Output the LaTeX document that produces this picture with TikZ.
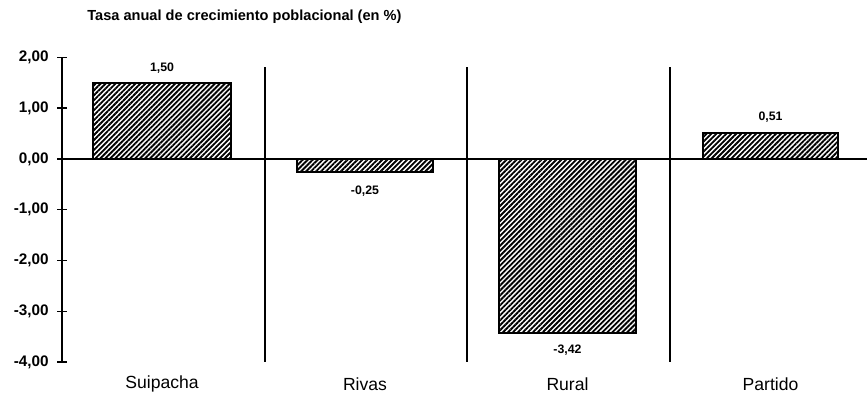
\documentclass[tikz,border=0pt]{standalone}
\usepackage{fontspec}
\setmainfont{Liberation Sans}
\usetikzlibrary{patterns.meta,positioning}

\begin{document}
\begin{tikzpicture}[
x=0.02cm, y=1.016cm,
font=\bfseries,
axisline/.style={line width=1.1pt},
divider/.style={line width=1.1pt},
hatched/.style={draw=black, line width=1.1pt, pattern={Lines[angle=45,distance=2pt,line width=1.05pt]}},
ticklabel/.style={anchor=east, inner sep=0pt, font=\bfseries\fontsize{8.7}{10}\selectfont},
barlabel/.style={inner sep=0pt, font=\bfseries\fontsize{7}{8}\selectfont},
catlabel/.style={inner sep=0pt, font=\fontsize{10}{12}\selectfont}
]
    \useasboundingbox (0,3.13) rectangle (867,-4.705);

    % Title
    \node[anchor=west, inner sep=0pt, font=\bfseries\fontsize{8.3}{10}\selectfont] (title) at (87,2.795)
        {Tasa anual de crecimiento poblacional (en \%)};

    % Axes
    \draw[axisline] (62,2) coordinate (ytop) -- (62,-4) coordinate (ybot);
    \draw[axisline] (62,0) coordinate (xleft) -- (867,0) coordinate (xright);
    \foreach \v/\t [count=\i] in {2/{2,00},1/{1,00},0/{0,00},-1/{-1,00},-2/{-2,00},-3/{-3,00},-4/{-4,00}}
    {
        \draw[thick] (57,\v) -- (67,\v);
        \node[ticklabel] (tick\i) at (49,\v) {\t};
    }

    % Dividers
    \draw[divider] (265,1.81) coordinate (d1top) -- (265,-4) coordinate (d1bot);
    \draw[divider] (467,1.81) coordinate (d2top) -- (467,-4) coordinate (d2bot);
    \draw[divider] (670,1.81) coordinate (d3top) -- (670,-4) coordinate (d3bot);

    % Bars
    \draw[hatched] (93,0) rectangle (231,1.50);
    \draw[hatched] (297,0) rectangle (433,-0.25);
    \draw[hatched] (499,0) rectangle (636,-3.42);
    \draw[hatched] (703,0) rectangle (838,0.51);

    \coordinate (suitop) at (162,1.50);
    \coordinate (rivbot) at (365,-0.25);
    \coordinate (rurbot) at (567.5,-3.42);
    \coordinate (partop) at (770.5,0.51);

    % Values
    \node[barlabel, above=5pt of suitop] (vsui) {1,50};
    \node[barlabel, below=8pt of rivbot] (vriv) {-0,25};
    \node[barlabel, below=6.5pt of rurbot] (vrur) {-3,42};
    \node[barlabel, above=6pt of partop] (vpar) {0,51};

    % Categories
    \node[catlabel] (suipacha) at (162,-4.43) {Suipacha};
    \node[catlabel] (rivas) at (365,-4.43) {Rivas};
    \node[catlabel] (rural) at (567.5,-4.43) {Rural};
    \node[catlabel] (partido) at (770.5,-4.43) {Partido};
\end{tikzpicture}
\end{document}
